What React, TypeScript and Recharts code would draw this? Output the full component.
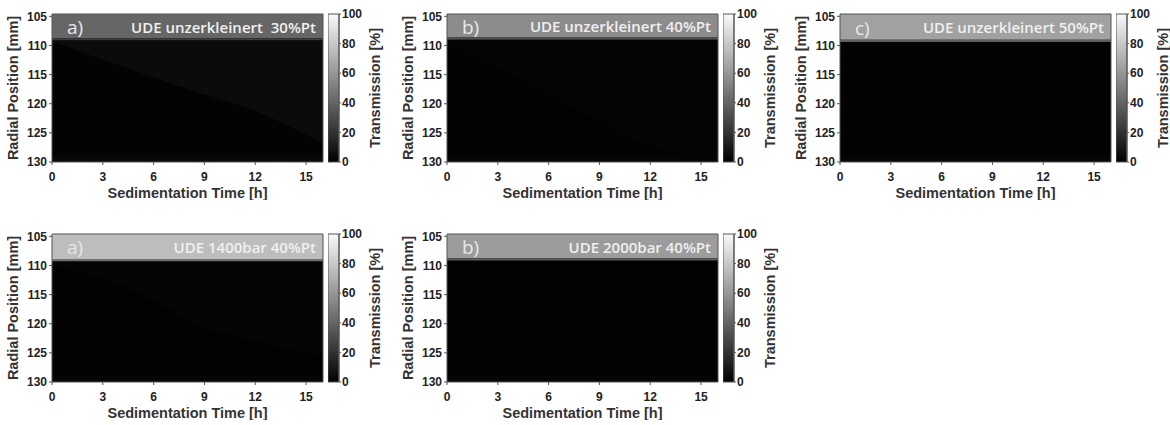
import { ComposedChart, Area, Bar, XAxis, YAxis, ReferenceArea, CartesianGrid } from 'recharts'

// axis ticks
const TIME_TICKS = [0, 3, 6, 9, 12, 15]
const RADIAL_TICKS = [105, 110, 115, 120, 125, 130]
const TRANSMISSION_TICKS = [0, 20, 40, 60, 80, 100]

// panel texts
const TITLES = [
  'UDE unzerkleinert\u00a0 30%Pt',
  'UDE unzerkleinert 40%Pt',
  'UDE unzerkleinert 50%Pt',
  'UDE 1400bar 40%Pt',
  'UDE 2000bar 40%Pt',
]
const LETTERS = ['a)', 'b)', 'c)', 'a)', 'b)']

// transmission [%] of the clear supernatant band and where it ends [mm]
const BAND_T = [40, 55, 63, 74, 61]
const BAND_EDGE = [109.15, 109.0, 109.4, 109.3, 109.15]
// faint cleared zone above the sedimentation front, sediment body, cell bottom
const CLEAR_T = [4.5, 1.6, 0.8, 2, 0.8]
const SEDIMENT_T = [1, 0.8, 0.8, 0.8, 0.8]
const BOTTOM_T = [3, 2, 2, 2, 2]

// sedimentation front position [mm] read at these times [h]
const FRONT_TIMES = [0, 3, 6, 9, 12, 15, 16]
const FRONT_A = [109.3, 112.4, 115.5, 118.4, 121.3, 125.3, 126.8]
const FRONT_B = [110.0, 114.0, 118.5, 123.0, 127.5, 128.8, 128.8]
const FRONT_D = [110.0, 112.3, 116.0, 120.6, 123.0, 125.0, 125.4]
const FRONTS = [FRONT_A, FRONT_B, null, FRONT_D, null]

// colour bar: full transmission range
const COLORBAR = [{ name: 'scale', range: [0, 100] }]

// layout: top-left of each panel
const PANEL_POS = [
  [0, 0],
  [395, 0],
  [788, 0],
  [0, 220],
  [395, 220],
]

const FONT = '"Liberation Sans", Arial, sans-serif'
const TITLE_FONT = '"Open Sans", "Noto Sans", sans-serif'
const Y_DOMAIN: [number, number] = [104.6, 130]

const gray = (t: number) => {
  const g = Math.round(t * 2.55)
  return `rgb(${g},${g},${g})`
}

const tickStyle = { fill: '#222', fontSize: 12, fontWeight: 700, fontFamily: FONT }
const titleStyle = { fill: '#333', fontSize: 14.5, fontWeight: 700, fontFamily: FONT }

function Heatmap({ idx }: { idx: number }) {
  const front = FRONTS[idx]
  const edge = BAND_EDGE[idx]
  const data = FRONT_TIMES.map((t, i) => (front ? { t, clear: [edge, front[i]] } : { t }))

  return (
    <ComposedChart width={328} height={200} data={data} margin={{ top: 13, right: 4, bottom: 0, left: 0 }}>
      <CartesianGrid horizontal={false} vertical={false} fill={gray(SEDIMENT_T[idx])} />
      <XAxis
        type="number"
        dataKey="t"
        domain={[0, 16]}
        ticks={TIME_TICKS}
        allowDataOverflow
        height={38}
        tickSize={3}
        tickMargin={7}
        stroke="#555"
        tick={tickStyle}
        label={{ value: 'Sedimentation Time [h]', position: 'insideBottom', offset: 2, ...titleStyle }}
      />
      <XAxis
        xAxisId="t"
        orientation="top"
        type="number"
        dataKey="t"
        domain={[0, 16]}
        ticks={TIME_TICKS}
        allowDataOverflow
        height={1}
        tickSize={3}
        tick={false}
        stroke="#555"
      />
      <YAxis
        type="number"
        domain={Y_DOMAIN}
        reversed
        allowDataOverflow
        ticks={RADIAL_TICKS}
        width={52}
        tickSize={3}
        tickMargin={2}
        stroke="#555"
        tick={tickStyle}
        label={{ value: 'Radial Position [mm]', angle: -90, position: 'center', dx: -13, ...titleStyle }}
      />
      <YAxis
        yAxisId="r"
        orientation="right"
        type="number"
        domain={Y_DOMAIN}
        reversed
        allowDataOverflow
        ticks={RADIAL_TICKS}
        width={1}
        tickSize={3}
        tick={false}
        stroke="#555"
      />
      <ReferenceArea y1={Y_DOMAIN[0]} y2={edge - 0.4} fill={gray(BAND_T[idx])} fillOpacity={1} stroke="none" />
      <ReferenceArea y1={edge - 0.4} y2={edge} fill={gray(BAND_T[idx] * 0.6)} fillOpacity={1} stroke="none" />
      <ReferenceArea y1={128.8} y2={130} fill={gray(BOTTOM_T[idx])} fillOpacity={1} stroke="none" />
      {front && (
        <Area
          dataKey="clear"
          type="monotone"
          stroke="none"
          fill={gray(CLEAR_T[idx])}
          fillOpacity={1}
          dot={false}
          activeDot={false}
          isAnimationActive={false}
        />
      )}
      <ReferenceArea
        y1={Y_DOMAIN[0]}
        y2={edge}
        fill="none"
        stroke="none"
        label={{
          value: TITLES[idx],
          position: 'insideRight',
          offset: 7,
          fill: '#f0f0f0',
          fontSize: 15,
          fontWeight: 600,
          fontFamily: TITLE_FONT,
        }}
      />
      <ReferenceArea
        y1={Y_DOMAIN[0]}
        y2={edge}
        fill="none"
        stroke="none"
        label={{ value: LETTERS[idx], position: 'insideLeft', offset: 15, fill: '#e8e8e8', fontSize: 19, fontFamily: TITLE_FONT }}
      />
    </ComposedChart>
  )
}

function ColorBar({ idx }: { idx: number }) {
  const id = `cb-grad-${idx}`
  return (
    <ComposedChart
      width={83}
      height={200}
      data={COLORBAR}
      barCategoryGap={0}
      margin={{ top: 14, right: 0, bottom: 38, left: 0 }}
    >
      <defs>
        <linearGradient id={id} x1="0" y1="1" x2="0" y2="0">
          <stop offset="0" stopColor="#000" />
          <stop offset="1" stopColor="#fafafa" />
        </linearGradient>
      </defs>
      <XAxis dataKey="name" hide />
      <YAxis
        orientation="right"
        type="number"
        domain={[0, 100]}
        ticks={TRANSMISSION_TICKS}
        width={72}
        tickSize={2}
        tickMargin={1}
        stroke="#555"
        tick={tickStyle}
        label={{ value: 'Transmission [%]', angle: -90, position: 'center', ...titleStyle }}
      />
      <Bar dataKey="range" fill={`url(#${id})`} stroke="#555" isAnimationActive={false} />
    </ComposedChart>
  )
}

export default function App() {
  return (
    <div
      style={{
        position: 'absolute',
        left: 0,
        top: 0,
        width: 1170,
        height: 425,
        overflow: 'hidden',
        background: '#fff',
      }}
    >
      {PANEL_POS.map(([x, y], idx) => (
        <div key={idx} style={{ position: 'absolute', left: x, top: y, width: 420, height: 200 }}>
          <div style={{ position: 'absolute', left: 0, top: 0 }}>
            <Heatmap idx={idx} />
          </div>
          <div style={{ position: 'absolute', left: 328, top: 0 }}>
            <ColorBar idx={idx} />
          </div>
        </div>
      ))}
    </div>
  )
}
